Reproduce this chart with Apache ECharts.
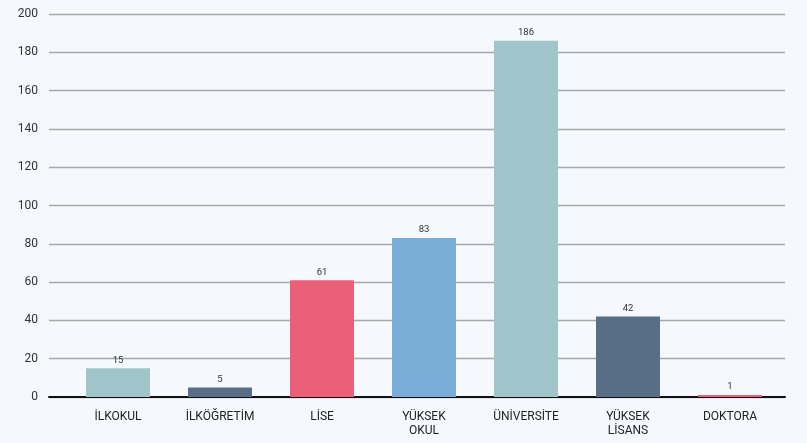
<!DOCTYPE html>
<html>
<head>
<meta charset="utf-8">
<style>
html,body{margin:0;padding:0;background:#f5f9fd;}
#c{width:807px;height:443px;}
</style>
<script src="https://cdn.jsdelivr.net/npm/echarts@6/dist/echarts.min.js"></script>
</head>
<body>
<div id="c"></div>
<script>
const categories = ['İLKOKUL', 'İLKÖĞRETİM', 'LİSE', 'YÜKSEK\nOKUL', 'ÜNİVERSİTE', 'YÜKSEK\nLİSANS', 'DOKTORA'];
const values = [15, 5, 61, 83, 186, 42, 1];
const barColors = ['#9fc4ca', '#576e86', '#eb5f78', '#79acd6', '#9fc4ca', '#576e86', '#eb5f78'];
const yTicks = { min: 0, max: 200, interval: 20 };

const chart = echarts.init(document.getElementById('c'), null, { renderer: 'canvas' });
chart.setOption({
  backgroundColor: '#f5f9fd',
  animation: false,
  grid: [
    { left: 49, right: 22, top: 14, bottom: 46 },
    { left: 67, right: 26, top: 14, bottom: 46 }
  ],
  xAxis: [
    { gridIndex: 0, type: 'value', min: 0, max: 1,
      axisLine: { show: true, onZero: false, lineStyle: { color: '#111', width: 2 } },
      axisTick: { show: false }, axisLabel: { show: false }, splitLine: { show: false } },
    { gridIndex: 1, type: 'category', data: categories,
      axisLine: { show: false }, axisTick: { show: false },
      axisLabel: { interval: 0, color: '#222', fontSize: 12, margin: 13, lineHeight: 14, fontFamily: 'Roboto, sans-serif' } }
  ],
  yAxis: [
    { gridIndex: 0, type: 'value', min: yTicks.min, max: yTicks.max, interval: yTicks.interval,
      axisLine: { show: false }, axisTick: { show: false },
      axisLabel: { color: '#333', fontSize: 12, margin: 11, fontFamily: 'Roboto, sans-serif' },
      splitLine: { lineStyle: { color: '#a9a9a9', width: 1.3 } } },
    { gridIndex: 1, type: 'value', min: yTicks.min, max: yTicks.max, interval: yTicks.interval,
      show: false }
  ],
  series: [{
    type: 'bar',
    xAxisIndex: 1, yAxisIndex: 1,
    barWidth: 64,
    data: values.map((v, i) => ({ value: v, itemStyle: { color: barColors[i] } })),
    label: { show: true, position: 'top', distance: 3, color: '#333', fontSize: 9.5, fontFamily: 'Roboto, sans-serif' }
  }]
});
</script>
</body>
</html>
